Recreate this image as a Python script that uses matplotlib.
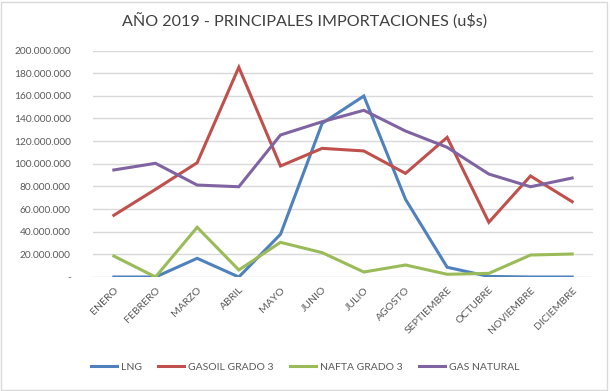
import matplotlib
matplotlib.use("Agg")
import matplotlib.pyplot as plt
from matplotlib.patches import Rectangle
from matplotlib.ticker import FuncFormatter

plt.rcParams['font.family'] = ['Lato', 'DejaVu Sans']

# Data
meses = ['ENERO', 'FEBRERO', 'MARZO', 'ABRIL', 'MAYO', 'JUNIO', 'JULIO',
         'AGOSTO', 'SEPTIEMBRE', 'OCTUBRE', 'NOVIEMBRE', 'DICIEMBRE']
lng = [0, 0, 16.5e6, 0, 37.7e6, 135.7e6, 159.8e6, 68.6e6, 8.6e6, 0.5e6, 0, 0]
gasoil = [54.5e6, 77.4e6, 100.9e6, 185.2e6, 98.0e6, 113.6e6, 111.3e6, 91.5e6,
          123.3e6, 48.3e6, 89.2e6, 66.5e6]
nafta = [18.5e6, 0, 43.9e6, 6.2e6, 30.6e6, 21.5e6, 4.4e6, 10.6e6, 2.4e6, 3.2e6,
         19.4e6, 20.3e6]
gas_natural = [94.5e6, 100.4e6, 81.2e6, 79.7e6, 125.4e6, 137.1e6, 147.2e6,
               128.9e6, 114.5e6, 90.9e6, 79.7e6, 87.4e6]
series = ['LNG', 'GASOIL GRADO 3', 'NAFTA GRADO 3', 'GAS NATURAL']
colores = ['#4F81BD', '#C0504D', '#9BBB59', '#8064A2']

W, H = 610, 391
fig = plt.figure(figsize=(W / 100, H / 100), dpi=100)
ax = fig.add_axes([93 / W, 1 - 277 / H, 500 / W, 226.5 / H])

x = range(len(meses))
for vals, name, c in zip([lng, gasoil, nafta, gas_natural], series, colores):
    ax.plot(x, vals, color=c, lw=2.2, label=name, solid_joinstyle='miter')

ax.set_xlim(-0.5, len(meses) - 0.5)
ax.set_ylim(0, 200e6)
ax.set_yticks(range(0, 200000001, 20000000))


def fmt(v, pos):
    if v == 0:
        return '-'
    return f'{int(v):,}'.replace(',', '.')


ax.yaxis.set_major_formatter(FuncFormatter(fmt))
ax.grid(axis='y', color='#D9D9D9', lw=1)
ax.set_axisbelow(True)
for s in ax.spines.values():
    s.set_visible(False)
ax.tick_params(axis='y', length=0, pad=16, labelsize=7.3, labelcolor='#595959')
ax.tick_params(axis='x', length=0, pad=6, labelsize=7.5, labelcolor='#595959')
ax.set_xticks(list(x))
ax.set_xticklabels(meses, rotation=45, ha='right', va='top', rotation_mode='anchor')

fig.text(0.5, 1 - 22 / H, 'AÑO 2019 - PRINCIPALES IMPORTACIONES (u$s)',
         ha='center', va='center', fontsize=11.6, color='#404040')

fig.legend(loc='center', bbox_to_anchor=(0.5, 1 - 367 / H), ncol=4, frameon=False,
           fontsize=7.5, labelcolor='#595959', handlelength=2.5, columnspacing=1.6,
           handletextpad=0.35)

fig.patches.append(Rectangle((1 / W, 1 / H), (W - 4) / W, (H - 3) / H,
                             transform=fig.transFigure, fill=False,
                             edgecolor='#D9D9D9', lw=1))

fig.savefig('out.png', dpi=100)
